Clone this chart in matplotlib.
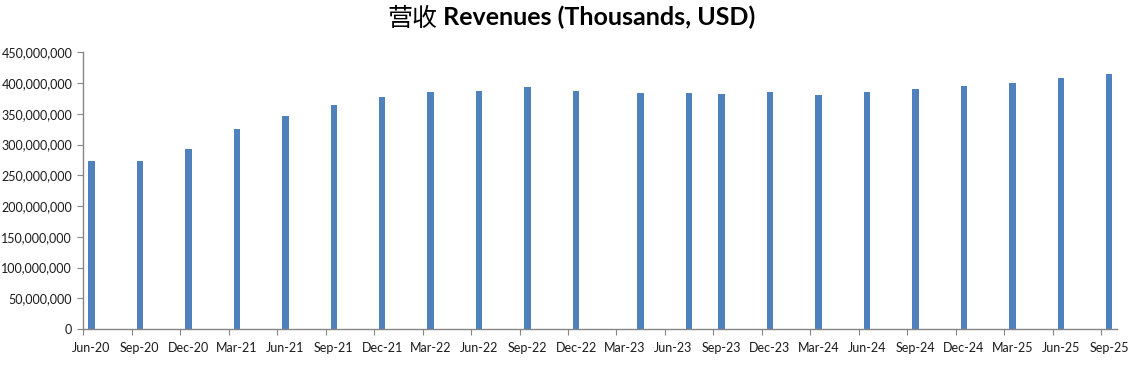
import matplotlib
matplotlib.use("Agg")
import matplotlib.pyplot as plt
import matplotlib.ticker as mticker
from matplotlib.offsetbox import TextArea, HPacker, AnchoredOffsetbox
import pandas as pd

# reporting months (bars sit in their month slot on a monthly date axis)
periods = ["2020-06", "2020-09", "2020-12", "2021-03", "2021-06", "2021-09",
           "2021-12", "2022-03", "2022-06", "2022-09", "2022-12", "2023-04",
           "2023-07", "2023-09", "2023-12", "2024-03", "2024-06", "2024-09",
           "2024-12", "2025-03", "2025-06", "2025-09"]
revenues = [273_200_000, 273_200_000, 292_700_000, 325_300_000, 346_400_000,
            364_300_000, 377_300_000, 385_400_000, 387_000_000, 393_600_000,
            387_000_000, 383_800_000, 383_800_000, 382_200_000, 385_400_000,
            380_600_000, 385_400_000, 390_300_000, 395_200_000, 400_100_000,
            408_200_000, 414_700_000]
axis_start = "2020-06"
axis_end = "2025-09"

p = pd.PeriodIndex(periods, freq="M")
p0 = pd.Period(axis_start, freq="M")
p1 = pd.Period(axis_end, freq="M")
x = [(q - p0).n for q in p]
n_months = (p1 - p0).n + 1
label_months = pd.period_range(p0, p1, freq="M")[::3]
label_x = [(q - p0).n for q in label_months]
tick_labels = [q.strftime("%b-%y") for q in label_months]

grey = "#868686"
fig = plt.figure(figsize=(11.43, 3.67), dpi=100)
ax = fig.add_axes([0.0729, 0.1035, 0.9046, 0.754])

ax.bar(x, revenues, width=0.4, color="#4F81BD")

ax.set_xlim(-0.5, n_months - 0.5)
ax.set_ylim(0, 450_000_000)
ax.yaxis.set_major_locator(mticker.MultipleLocator(50_000_000))
ax.yaxis.set_major_formatter(mticker.FuncFormatter(lambda v, _: f"{v:,.0f}"))

# ticks on month boundaries, labels centred in the month slot
ax.set_xticks([v - 0.5 for v in label_x])
ax.set_xticklabels([])
ax.set_xticks(label_x, minor=True)
ax.set_xticklabels(tick_labels, minor=True)
ax.tick_params(axis="x", which="major", length=4, color=grey, direction="out")
ax.tick_params(axis="x", which="minor", length=0, pad=9)
ax.tick_params(axis="y", length=4, color=grey, pad=4)

for lab in ax.get_xticklabels(minor=True) + ax.get_yticklabels():
    lab.set_fontfamily("Lato")
    lab.set_fontsize(9)
    lab.set_color("#1a1a1a")

for s in ["top", "right"]:
    ax.spines[s].set_visible(False)
for s in ["left", "bottom"]:
    ax.spines[s].set_color(grey)
    ax.spines[s].set_linewidth(1.0)

# title: Chinese part regular, English part bold
t_cn = TextArea("营收", textprops=dict(family=["Noto Sans CJK SC", "DejaVu Sans"],
                                       fontsize=18, color="black"))
t_en = TextArea(" Revenues (Thousands, USD)",
                textprops=dict(family="Lato", fontweight="bold", fontsize=18, color="black"))
box = HPacker(children=[t_cn, t_en], align="baseline", pad=0, sep=0)
anch = AnchoredOffsetbox(loc="upper center", child=box, frameon=False,
                         bbox_to_anchor=(0.5, 0.985), bbox_transform=fig.transFigure,
                         borderpad=0, pad=0)
fig.add_artist(anch)

fig.savefig("out.png", dpi=100)
